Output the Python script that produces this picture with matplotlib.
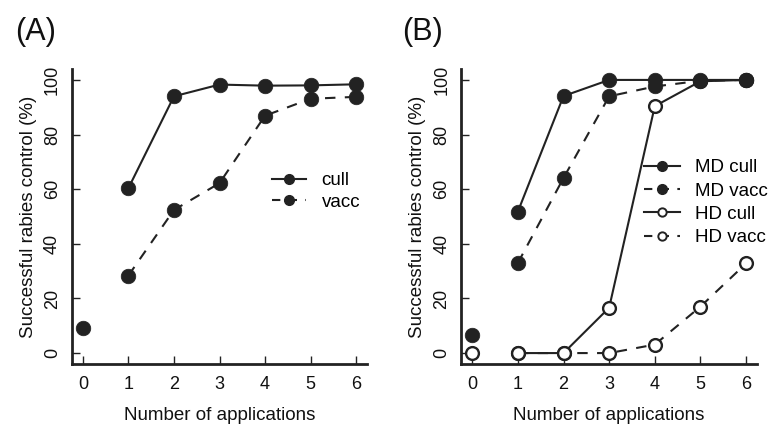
import matplotlib
matplotlib.use("Agg")
import matplotlib.pyplot as plt
from matplotlib.lines import Line2D

plt.rcParams['font.family'] = ['Liberation Sans', 'DejaVu Sans']

# ---- data ----
apps = [0, 1, 2, 3, 4, 5, 6]
apps_treat = [1, 2, 3, 4, 5, 6]

# Panel A
A_baseline = [9.2]
A_cull = [60.4, 94.0, 98.3, 97.9, 98.0, 98.4]
A_vacc = [28.4, 52.4, 62.2, 86.9, 93.1, 93.8]

# Panel B
B_MD_baseline = [6.6]
B_HD_baseline = [0.0]
B_MD_cull = [51.8, 94.1, 100.0, 100.0, 100.0, 100.0]
B_MD_vacc = [33.0, 64.1, 94.0, 97.6, 99.7, 100.0]
B_HD_cull = [0.0, 0.0, 16.6, 90.4, 99.5, 100.0]
B_HD_vacc = [0.0, 0.0, 0.0, 3.1, 17.0, 32.8]

xticks = [0, 1, 2, 3, 4, 5, 6]
yticks = [0, 20, 40, 60, 80, 100]

C = '#222222'
LW = 1.5
DASH = (5, 4.5)
MS_F = 10.5
MS_O = 9.2
MEW_O = 1.7

fig = plt.figure(figsize=(7.68, 4.25), dpi=100)
axA = fig.add_axes([72/768, 1-364/425, 295/768, 295/425])
axB = fig.add_axes([461.3/768, 1-364/425, 295.7/768, 295/425])


def style(ax):
    ax.set_xlim(-0.24, 6.24)
    ax.set_ylim(-4, 104)
    ax.set_xticks(xticks)
    ax.set_yticks(yticks)
    for s in ['top', 'right']:
        ax.spines[s].set_visible(False)
    for s in ['left', 'bottom']:
        ax.spines[s].set_linewidth(2.0)
        ax.spines[s].set_color(C)
    ax.tick_params(direction='in', length=6, width=1.0, color=C,
                   labelsize=13, labelcolor='#111111')
    ax.tick_params(axis='x', pad=8.5)
    ax.tick_params(axis='y', pad=8, labelrotation=90)
    for lab in ax.get_yticklabels():
        lab.set_va('center')
    ax.set_xlabel('Number of applications', fontsize=13.5, labelpad=10.5, color='#111111')
    ax.set_ylabel('Successful rabies control (%)', fontsize=13.5, labelpad=5, color='#111111')


# Panel A
style(axA)
axA.plot(apps_treat, A_cull, '-', color=C, lw=LW, zorder=2)
axA.plot(apps_treat, A_vacc, '--', dashes=DASH, color=C, lw=LW, zorder=2)
axA.plot(apps_treat, A_vacc, 'o', color=C, ms=MS_F, mew=0.5, ls='none', zorder=3)
axA.plot(apps_treat, A_cull, 'o', color=C, ms=MS_F, mew=0.5, ls='none', zorder=3)
axA.plot(apps[:1], A_baseline, 'o', color=C, ms=MS_F, mew=0.5, ls='none', zorder=3)

hA = [Line2D([], [], color=C, lw=LW, marker='o', ms=7),
      Line2D([], [], color=C, lw=LW, ls='--', dashes=(4, 4), marker='o', ms=7)]
axA.legend(hA, ['cull', 'vacc'], loc='center left', bbox_to_anchor=(0.678, 0.585),
           frameon=False, fontsize=13.5, borderpad=0, borderaxespad=0,
           handlelength=1.8, handletextpad=0.85, labelspacing=0.25)

# Panel B
style(axB)
axB.plot(apps_treat, B_HD_vacc, '--', dashes=DASH, color=C, lw=LW, zorder=2)
axB.plot(apps_treat, B_HD_cull, '-', color=C, lw=LW, zorder=2)
axB.plot(apps_treat, B_MD_vacc, '--', dashes=DASH, color=C, lw=LW, zorder=2)
axB.plot(apps_treat, B_MD_cull, '-', color=C, lw=LW, zorder=2)

axB.plot(apps_treat, B_HD_vacc, 'o', mfc='white', mec=C, ms=MS_O, mew=MEW_O, ls='none', zorder=3)
axB.plot(apps_treat, B_HD_cull, 'o', mfc='white', mec=C, ms=MS_O, mew=MEW_O, ls='none', zorder=3)
axB.plot(apps[:1], B_HD_baseline, 'o', mfc='white', mec=C, ms=MS_O, mew=MEW_O, ls='none', zorder=3)
axB.plot(apps_treat, B_MD_vacc, 'o', color=C, ms=MS_F, mew=0.5, ls='none', zorder=4)
axB.plot(apps_treat, B_MD_cull, 'o', color=C, ms=MS_F, mew=0.5, ls='none', zorder=4)
axB.plot(apps[:1], B_MD_baseline, 'o', color=C, ms=MS_F, mew=0.5, ls='none', zorder=4)

hB = [Line2D([], [], color=C, lw=LW, marker='o', ms=7),
      Line2D([], [], color=C, lw=LW, ls='--', dashes=(4, 4), marker='o', ms=7),
      Line2D([], [], color=C, lw=LW, marker='o', ms=6, mfc='white', mew=1.4),
      Line2D([], [], color=C, lw=LW, ls='--', dashes=(4, 4), marker='o', ms=6, mfc='white', mew=1.4)]
axB.legend(hB, ['MD cull', 'MD vacc', 'HD cull', 'HD vacc'], loc='center left',
           bbox_to_anchor=(0.618, 0.547), frameon=False, fontsize=13.5, borderpad=0,
           borderaxespad=0, handlelength=1.9, handletextpad=0.8, labelspacing=0.33)

fig.text(15/768, 1-17/425, '(A)', fontsize=22, va='top', ha='left', color='#111111')
fig.text(402/768, 1-17/425, '(B)', fontsize=22, va='top', ha='left', color='#111111')

fig.savefig('out.png', dpi=100)
